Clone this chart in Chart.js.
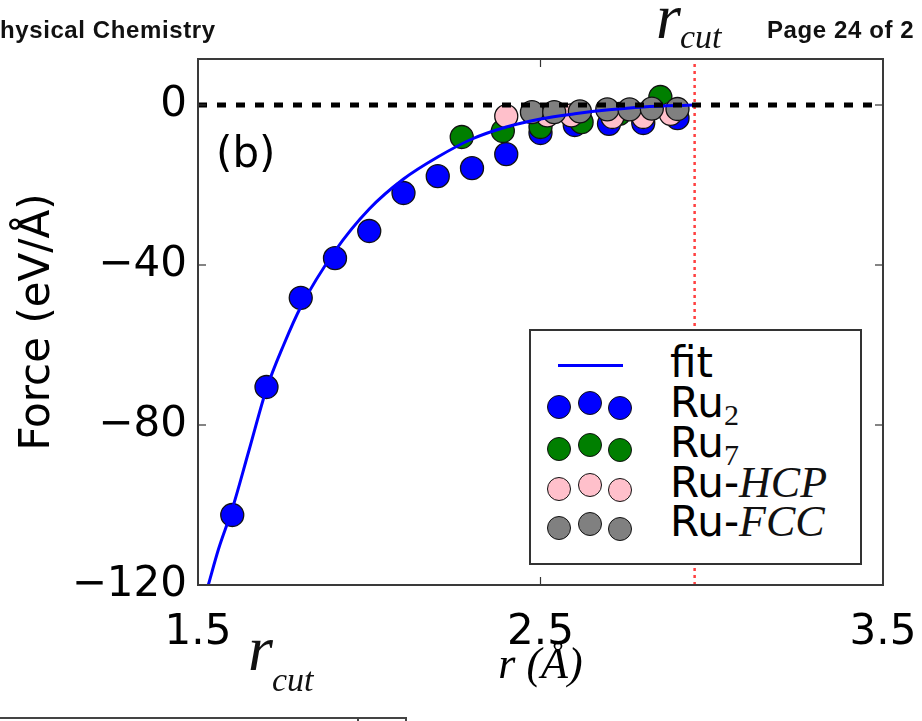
<!DOCTYPE html>
<html>
<head>
<meta charset="utf-8">
<script src="https://cdn.jsdelivr.net/npm/chart.js@4.4.1/dist/chart.umd.min.js"></script>
<style>
  html, body { margin: 0; padding: 0; background: #fff; }
  #wrap { position: relative; width: 922px; height: 721px; overflow: hidden; background: #fff; }
  #c { position: absolute; left: 0; top: 0; }
  .abs { position: absolute; white-space: nowrap; }
  .hdr { font-family: "Liberation Sans", Arial, sans-serif; font-weight: bold; font-size: 24px; line-height: 24px; color: #111; letter-spacing: 0.6px; }
  .serifi { font-family: "Liberation Serif", "DejaVu Serif", serif; font-style: italic; color: #111; }
  .sans { font-family: "DejaVu Sans", sans-serif; color: #000; }
  #legend { position: absolute; left: 529px; top: 329px; width: 329px; height: 232px; border: 2px solid #333; background: #fff; }
  .dot { position: absolute; width: 22px; height: 22px; border-radius: 50%; border: 1.5px solid #111; }
</style>
</head>
<body>
<div id="wrap">
  <canvas id="c" width="922" height="721"></canvas>
  <div class="abs hdr" style="left:0px;top:18px;">hysical Chemistry</div>
  <div class="abs hdr" style="left:767px;top:18px;">Page 24 of 2</div>
  <div class="abs serifi" style="left:656px;top:-15px;font-size:64px;line-height:64px;">r</div>
  <div class="abs serifi" style="left:680px;top:20px;font-size:34px;line-height:34px;">cut</div>
  <div class="abs serifi" style="left:248px;top:617px;font-size:64px;line-height:64px;">r</div>
  <div class="abs serifi" style="left:272px;top:663px;font-size:34px;line-height:34px;">cut</div>
  <div class="abs" style="left:0px;top:717px;width:405px;height:10px;border-top:2px solid #444;border-right:2px solid #444;"></div>
  <div class="abs" style="left:357px;top:717px;width:2px;height:10px;background:#444;"></div>
  <div class="abs sans" style="left:216px;top:132px;font-size:42px;line-height:42px;">(b)</div>
  <div id="legend"></div>
</div>
<script>
// ---- data ----
const xRange = [1.5, 3.5];
const yRange = [-120, 11.5];
const xTickValues = [1.5, 2.5, 3.5];
const yTickValues = [-120, -80, -40, 0];
const rCut = 2.95;

const fitR = [1.53, 1.56, 1.6, 1.65, 1.7, 1.75, 1.8, 1.9, 2.0, 2.1, 2.2, 2.3, 2.4, 2.5, 2.6, 2.7, 2.8, 2.95];
const fitF = [-120, -111, -101, -86, -71, -60, -50.5, -36.5, -26, -18.5, -13, -8.5, -5.5, -3.5, -2.2, -1.2, -0.5, 0];

const ru2R = [1.6, 1.7, 1.8, 1.9, 2.0, 2.1, 2.2, 2.3, 2.4, 2.5, 2.6, 2.7, 2.8, 2.9];
const ru2F = [-102.5, -70.5, -48.2, -38.3, -31.5, -22, -17.8, -15.8, -12.3, -7, -5, -4.7, -4.5, -3.3];

const ru7R = [2.27, 2.39, 2.5, 2.62, 2.73, 2.85];
const ru7F = [-8, -6.5, -5.5, -4.3, -2.2, 2.0];

const hcpR = [2.4, 2.52, 2.59, 2.71, 2.8, 2.88];
const hcpF = [-2.8, -2.6, -2.6, -3.0, -3.0, -2.2];

const fccR = [2.475, 2.54, 2.615, 2.695, 2.76, 2.825, 2.9];
const fccF = [-1.8, -1.8, -1.6, -1.1, -1.1, -0.9, -1.0];

const seriesNames = ['fit', 'Ru2', 'Ru7', 'Ru-HCP', 'Ru-FCC'];
const seriesColors = ['#0000ff', '#0000ff', '#007f00', '#ffc0cb', '#808080'];

// ---- build ----
const pts = (xs, ys) => xs.map((x, i) => ({ x: x, y: ys[i] }));

function scatterSet(label, xs, ys, color, order) {
  return {
    type: 'scatter', label, data: pts(xs, ys), order,
    backgroundColor: color, borderColor: '#111', borderWidth: 1.3,
    pointRadius: 11.5, pointHoverRadius: 11.5, showLine: false
  };
}

function noPad(s) { s.paddingLeft = 0; s.paddingRight = 0; s.paddingTop = 0; s.paddingBottom = 0; }

const framePlugin = {
  id: 'frame',
  afterDraw(chart) {
    const { ctx, chartArea: a, scales } = chart;
    ctx.save();
    ctx.strokeStyle = '#333';
    ctx.lineWidth = 1.2;
    yTickValues.forEach(v => {
      const y = scales.y.getPixelForValue(v);
      ctx.beginPath(); ctx.moveTo(a.left, y); ctx.lineTo(a.left + 8, y); ctx.stroke();
      ctx.beginPath(); ctx.moveTo(a.right, y); ctx.lineTo(a.right - 8, y); ctx.stroke();
    });
    xTickValues.forEach(v => {
      const x = scales.x.getPixelForValue(v);
      ctx.beginPath(); ctx.moveTo(x, a.bottom); ctx.lineTo(x, a.bottom - 8); ctx.stroke();
      ctx.beginPath(); ctx.moveTo(x, a.top); ctx.lineTo(x, a.top + 8); ctx.stroke();
    });
    ctx.lineWidth = 2;
    ctx.strokeStyle = '#3a3a3a';
    ctx.strokeRect(a.left, a.top, a.right - a.left, a.bottom - a.top);
    ctx.restore();
  }
};

Chart.defaults.font.family = '"DejaVu Sans", sans-serif';
Chart.defaults.color = '#000';

new Chart(document.getElementById('c'), {
  type: 'scatter',
  data: {
    datasets: [
      { type: 'line', label: 'zero', data: pts(xRange, [0, 0]), order: -2,
        borderColor: '#000', borderWidth: 5, borderDash: [9, 10], pointRadius: 0, fill: false },
      { type: 'line', label: 'rcut', data: pts([rCut, rCut], yRange), order: -1,
        borderColor: 'rgba(255,30,30,0.85)', borderWidth: 2.5, borderDash: [3, 4], pointRadius: 0, fill: false },
      { type: 'line', label: seriesNames[0], data: pts(fitR, fitF), order: 0,
        borderColor: seriesColors[0], borderWidth: 3, pointRadius: 0, fill: false,
        cubicInterpolationMode: 'monotone' },
      scatterSet(seriesNames[4], fccR, fccF, seriesColors[4], 1),
      scatterSet(seriesNames[3], hcpR, hcpF, seriesColors[3], 2),
      scatterSet(seriesNames[2], ru7R, ru7F, seriesColors[2], 3),
      scatterSet(seriesNames[1], ru2R, ru2F, seriesColors[1], 4)
    ]
  },
  options: {
    responsive: false,
    animation: false,
    events: [],
    layout: { padding: { left: 0, right: 39, top: 59, bottom: 0 } },
    plugins: { legend: { display: false }, tooltip: { enabled: false } },
    scales: {
      x: {
        type: 'linear', min: xRange[0], max: xRange[1],
        grid: { display: false, drawTicks: false },
        border: { display: false },
        afterBuildTicks: s => { s.ticks = xTickValues.map(v => ({ value: v })); },
        afterFit: s => { s.height = 136; noPad(s); },
        ticks: { padding: 23, font: { size: 42 }, maxRotation: 0, callback: v => v.toFixed(1) },
        title: { display: true, text: 'r (Å)', padding: { top: 0, bottom: 28 },
                 font: { family: '"Liberation Serif", serif', style: 'italic', size: 44 } }
      },
      y: {
        type: 'linear', min: yRange[0], max: yRange[1],
        grid: { display: false, drawTicks: false },
        border: { display: false },
        afterBuildTicks: s => { s.ticks = yTickValues.map(v => ({ value: v })); },
        afterFit: s => { s.width = 198; noPad(s); },
        ticks: { padding: 11, font: { size: 42 }, callback: v => (v < 0 ? '\u2212' + Math.abs(v) : String(v)) },
        title: { display: true, text: 'Force (eV/Å)', padding: { top: 13, bottom: 0 }, font: { size: 42 } }
      }
    }
  },
  plugins: [framePlugin]
});

// ---- legend (HTML) ----
(function () {
  const lg = document.getElementById('legend');
  const L = 529, T = 329;
  const rows = [
    { y: 365, base: 378 }, { y: 406, base: 418 }, { y: 448, base: 458 },
    { y: 488, base: 498 }, { y: 527, base: 537 }
  ];
  const labels = [
    '<span>fit</span>',
    'Ru<span class="serifi" style="font-style:normal;font-size:30px;position:relative;top:8px;">2</span>',
    'Ru<span class="serifi" style="font-style:normal;font-size:30px;position:relative;top:8px;">7</span>',
    'Ru-<span class="serifi" style="font-size:44px;">HCP</span>',
    'Ru-<span class="serifi" style="font-size:44px;">FCC</span>'
  ];
  rows.forEach((r, i) => {
    const t = document.createElement('div');
    t.className = 'abs sans';
    t.style.cssText = `left:${670 - L - 2}px;top:${r.base - 36 - T - 2}px;font-size:42px;line-height:42px;`;
    t.innerHTML = labels[i];
    lg.appendChild(t);
    if (i === 0) {
      const ln = document.createElement('div');
      ln.className = 'abs';
      ln.style.cssText = `left:${558 - L - 2}px;top:${r.y - 1.5 - T - 2}px;width:65px;height:3px;background:${seriesColors[0]};`;
      lg.appendChild(ln);
    } else {
      const cx = [559, 590, 620], dy = [1, -3, 2];
      cx.forEach((x, k) => {
        const d = document.createElement('div');
        d.className = 'dot';
        d.style.left = (x - 12.5 - L - 2) + 'px';
        d.style.top = (r.y + dy[k] - 12.5 - T - 2) + 'px';
        d.style.background = seriesColors[i];
        lg.appendChild(d);
      });
    }
  });
})();
</script>
</body>
</html>
